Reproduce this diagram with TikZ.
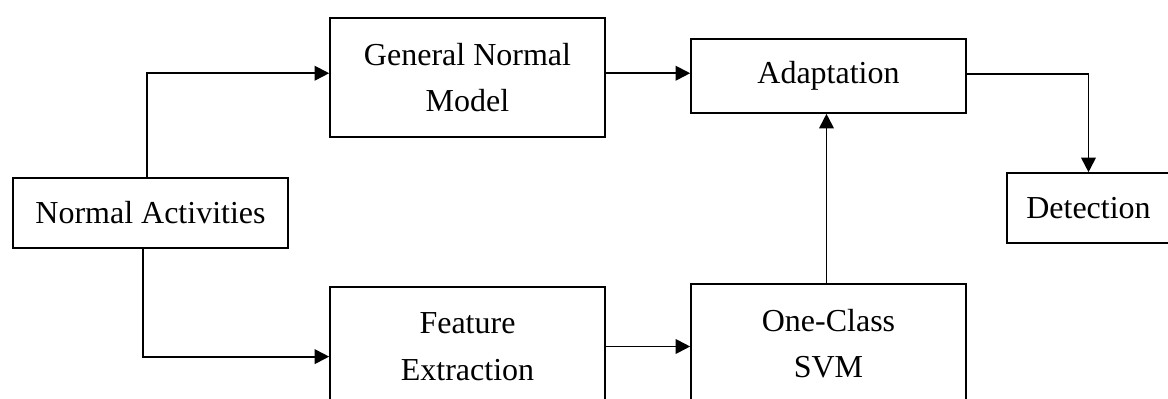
\documentclass[tikz,border=0pt]{standalone}
\usepackage{fontspec}
\setmainfont{Liberation Serif}
\usetikzlibrary{arrows.meta,positioning}

\begin{document}
\begin{tikzpicture}[x=0.75pt,y=-0.75pt,>={Triangle[length=11pt,width=11pt]},
    blk/.style={draw,line width=1.2pt,align=center,inner sep=0pt,font=\fontsize{24}{35}\selectfont},
    wide/.style={minimum width=206.25pt},
    link/.style={->,line width=1.4pt}]
    \useasboundingbox (0,0) rectangle (1168,399);
    % blocks
    \node[blk,wide,minimum height=52.5pt] (act) at (150.5,213) {Normal Activities};
    \node[blk,wide,minimum height=89.25pt] (gnm) at (467.5,77.5) {General Normal\\Model};
    \node[blk,wide,minimum height=89.25pt] (fe) at (467.5,346.5) {Feature\\Extraction};
    \node[blk,wide,minimum height=55.5pt] (adapt) at (828.5,76) {Adaptation};
    \node[blk,wide,minimum height=89.25pt] (svm) at (828.5,343.5) {One-Class\\SVM};
    \node[blk,minimum width=122.25pt,minimum height=52.5pt] (det) at (1088.5,208) {Detection};
    % connectors
    \draw[link] ([xshift=-2.6pt]act.north) |- ([yshift=3.2pt]gnm.west);
    \draw[link] ([xshift=-5.4pt]act.south) |- ([yshift=-7.6pt]fe.west);
    \draw[link] ([yshift=3.2pt]gnm.east) -- ([yshift=3.2pt]gnm.east -| adapt.west);
    \draw[link] (fe.east) -- (fe.east -| svm.west);
    \draw[link] ([xshift=-1.5pt]svm.north) -- ([xshift=-1.5pt]adapt.south);
    \draw[link] ([yshift=1.5pt]adapt.east) -| (det.north);
\end{tikzpicture}
\end{document}
